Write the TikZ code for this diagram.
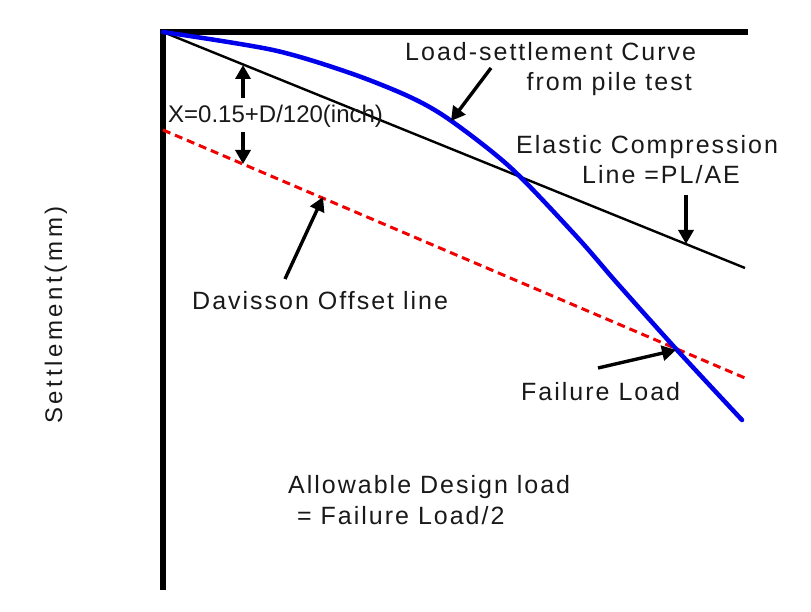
\documentclass[tikz,border=0pt]{standalone}
\usepackage{fontspec}
\setmainfont{Liberation Sans}[LetterSpace=8]
\newfontfamily\tightfont{Liberation Sans}
\newfontfamily\widefont{Liberation Sans}[LetterSpace=15]
\usetikzlibrary{arrows.meta}
\definecolor{curveblue}{RGB}{0,0,235}
\definecolor{offsetred}{RGB}{240,0,0}
\begin{document}
\begin{tikzpicture}[x=1pt,y=-1pt,
  lbl/.style={font=\fontsize{25}{29}\selectfont, inner sep=0pt, text=black!90},
  ptr/.style={line width=3.4pt, -{Triangle[length=14pt,width=15pt]}},
  axisline/.style={line width=5.5pt, line join=miter},
  elastic/.style={line width=2.4pt},
  offset/.style={line width=3pt, offsetred, dash pattern=on 8pt off 5pt},
  loadcurve/.style={line width=4.5pt, curveblue, line cap=round}]
\useasboundingbox (0,0) rectangle (811,612);
% axes
\coordinate (O) at (163,32);
\coordinate (XE) at (748,32);
\coordinate (YE) at (163,590);
\draw[axisline] (XE) -- (O) -- (YE);
% elastic compression line
\coordinate (EL) at (745,268);
\draw[elastic] (O) -- (EL);
% Davisson offset line
\coordinate (DA) at (163,130);
\coordinate (DB) at (745,378);
\draw[offset] (DA) -- (DB);
% load-settlement curve
\draw[loadcurve] plot[smooth, tension=0.5] coordinates {(163,32) (273,50) (350,73) (410,97) (450,120) (511,168) (577,237) (617,283) (677,350) (742,420)};
% texts
\node[lbl, anchor=base west] (t1) at (405,61) {Load-settlement Curve};
\node[lbl, anchor=base east] (t2) at (692,91) {from pile test};
\node[lbl, anchor=base west, font=\tightfont\fontsize{24}{28}\selectfont] (tx) at (168,123) {X=0.15+D/120(inch)};
\node[lbl, anchor=base west] (t3) at (516,154) {Elastic Compression};
\node[lbl, anchor=base west] (t4) at (582,184) {Line =PL/AE};
\node[lbl, anchor=base west] (t5) at (192,309) {Davisson Offset line};
\node[lbl, anchor=base west] (t6) at (521,400) {Failure Load};
\node[lbl, anchor=base west] (t7) at (288,493) {Allowable Design load};
\node[lbl, anchor=base west] (t8) at (288,524) {\ = Failure Load/2};
\node[lbl, anchor=base, rotate=90, font=\widefont\fontsize{24}{28}\selectfont] (ty) at (62,315) {Settlement(mm)};
% arrows
\coordinate (xa1) at (243,98);  \coordinate (xa2) at (243,65);
\coordinate (xb1) at (243,132); \coordinate (xb2) at (243,164);
\draw[ptr] (xa1) -- (xa2);
\draw[ptr] (xb1) -- (xb2);
\coordinate (la1) at (491,68); \coordinate (la2) at (451,121);
\draw[ptr] (la1) -- (la2);
\coordinate (ea1) at (686,195); \coordinate (ea2) at (686,244);
\draw[ptr] (ea1) -- (ea2);
\coordinate (da1) at (285,279); \coordinate (da2) at (323,197);
\draw[ptr] (da1) -- (da2);
\coordinate (fa1) at (598,368); \coordinate (fa2) at (676,350);
\draw[ptr] (fa1) -- (fa2);
\end{tikzpicture}
\end{document}
